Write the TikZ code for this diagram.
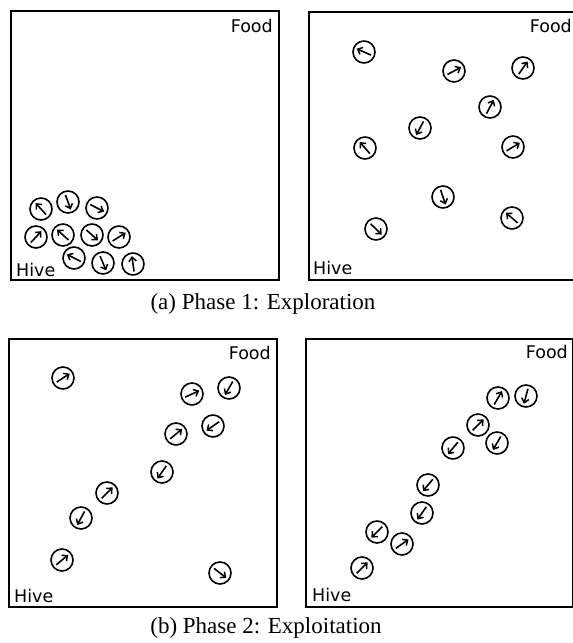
\documentclass[tikz,border=0pt]{standalone}
\usepackage{fontspec}
\setmainfont{Liberation Serif}
\newfontfamily\labelfont{DejaVu Sans}
\usetikzlibrary{arrows.meta,calc}
\tikzset{
  panel/.style={draw, line width=1.6pt},
  bee/.style={draw, circle, line width=1.6pt, minimum size=22pt, inner sep=0pt},
  beearrow/.style={line width=1.6pt, -{Straight Barb[length=4.2pt,width=7.5pt,line width=1.5pt]}},
  lbl/.style={font=\labelfont\fontsize{17.5}{17.5}\selectfont, inner sep=0pt},
  captext/.style={font=\fontsize{23}{23}\selectfont, inner sep=0pt}
}
\newcommand{\bees}[2]{%
  \foreach \x/\y/\a [count=\i] in {#2} {
    \node[bee] (#1b\i) at (\x,\y) {};
    \draw[beearrow] ($(#1b\i.center)+(\a+180:7.5pt)$) -- ($(#1b\i.center)+(\a:8pt)$);
  }%
}
\begin{document}
\begin{tikzpicture}[x=1pt,y=-1pt]
\useasboundingbox (0,0) rectangle (573,643);
\begin{scope}
\clip (0,0) rectangle (573,643);
% panels
\draw[panel] (11,11) rectangle (279,280);
\draw[panel] (309,12) rectangle (573.8,280);
\draw[panel] (9,339) rectangle (277,607);
\draw[panel] (306,339) rectangle (572.3,607);
\end{scope}
% labels
\node[lbl, anchor=base east] (f1) at (273,32) {Food};
\node[lbl, anchor=base west] (h1) at (16,276) {Hive};
\node[lbl, anchor=base east] (f2) at (572,32) {Food};
\node[lbl, anchor=base west] (h2) at (313,274) {Hive};
\node[lbl, anchor=base east] (f3) at (271,359) {Food};
\node[lbl, anchor=base west] (h3) at (14,602) {Hive};
\node[lbl, anchor=base east] (f4) at (568,358) {Food};
\node[lbl, anchor=base west] (h4) at (312,601) {Hive};
% captions
\node[captext] (ca) at (263,304) {(a) Phase 1: Exploration};
\node[captext] (cb) at (266,628) {(b) Phase 2: Exploitation};
% bees (angles in canvas degrees, counter-clockwise from east)
\bees{p}{41/209/132, 68/202/-70, 97/208/-27, 36/237/47, 63/235/138, 92/235/-42, 119/237/32, 74/258/153, 103/263/-67, 133/264/98}
\bees{q}{364/52/156, 454/71/28, 523/68/55, 490/107/62, 420/128/-118, 365/148/131, 513/147/31, 443/197/-71, 376/229/-44, 512/218/139}
\bees{r}{63/378/33, 192/394/25, 229/388/-120, 176/434/40, 213/426/-145, 162/472/-125, 107/493/45, 81/518/-118, 62/560/40, 220/573/-38}
\bees{s}{498/398/60, 526/396/-105, 478/425/45, 497/443/-120, 453/448/-130, 428/485/-130, 422/513/-125, 377/532/-135, 402/544/35, 362/568/45}
\end{tikzpicture}
\end{document}
